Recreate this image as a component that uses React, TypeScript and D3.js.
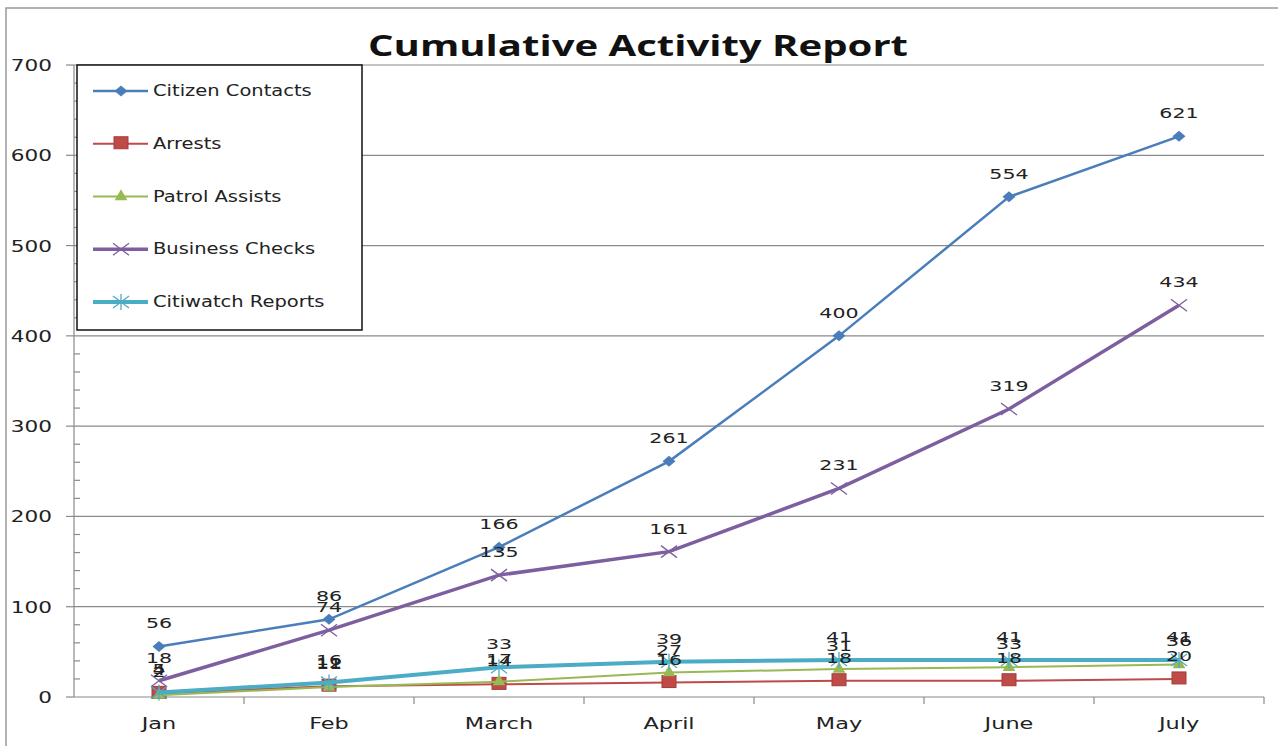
import React, { useRef, useEffect } from 'react';
import * as d3 from 'd3';

const months = ['Jan', 'Feb', 'March', 'April', 'May', 'June', 'July'];
const citizenContacts = [56, 86, 166, 261, 400, 554, 621];
const arrests = [4, 12, 14, 16, 18, 18, 20];
const patrolAssists = [2, 11, 17, 27, 31, 33, 36];
const businessChecks = [18, 74, 135, 161, 231, 319, 434];
const citiwatchReports = [5, 16, 33, 39, 41, 41, 41];
const yTicks = [0, 100, 200, 300, 400, 500, 600, 700];

const series = [
  { name: 'Citizen Contacts', values: citizenContacts, color: '#4a7ebb', width: 2.5, marker: 'diamond' },
  { name: 'Arrests', values: arrests, color: '#be4b48', width: 2, marker: 'square' },
  { name: 'Patrol Assists', values: patrolAssists, color: '#98b954', width: 2, marker: 'triangle' },
  { name: 'Business Checks', values: businessChecks, color: '#7d5fa0', width: 3.5, marker: 'x' },
  { name: 'Citiwatch Reports', values: citiwatchReports, color: '#4bacc6', width: 4, marker: 'star' },
];

const W = 1278;
const H = 746;

const App: React.FC = () => {
  const ref = useRef<SVGSVGElement | null>(null);

  useEffect(() => {
    if (!ref.current) return;
    const svg = d3.select(ref.current);
    svg.selectAll('*').remove();

    const left = 74, right = 1264, top = 65, bottom = 697;
    const x = d3.scaleBand().domain(months).range([left, right]);
    const y = d3.scaleLinear().domain([0, 700]).range([bottom, top]);
    const cx = (m: string) => (x(m) as number) + x.bandwidth() / 2;
    const font = '"DejaVu Sans", Verdana, sans-serif';

    // stretched text helper (reference text is wide)
    const addText = (g: any, tx: number, ty: number, s: string, size: number, sx: number, anchor: string) =>
      g.append('text')
        .attr('transform', `translate(${tx},${ty}) scale(${sx},1)`)
        .attr('text-anchor', anchor)
        .attr('font-family', font)
        .attr('font-size', size)
        .attr('fill', '#222')
        .text(s);

    svg.append('rect').attr('width', W).attr('height', H).attr('fill', '#fff');
    svg.append('rect')
      .attr('x', 6).attr('y', 8).attr('width', W + 20).attr('height', H + 20)
      .attr('fill', 'none').attr('stroke', '#999').attr('stroke-width', 1.5);

    // title
    svg.append('text')
      .attr('x', 638).attr('y', 56)
      .attr('text-anchor', 'middle')
      .attr('font-family', '"Open Sans", sans-serif')
      .attr('font-weight', 'bold')
      .attr('font-size', 29)
      .attr('textLength', 540)
      .attr('lengthAdjust', 'spacingAndGlyphs')
      .attr('fill', '#111')
      .text('Cumulative Activity Report');

    // gridlines
    svg.append('g').selectAll('line').data(yTicks.filter(t => t > 0)).join('line')
      .attr('x1', left).attr('x2', right)
      .attr('y1', d => y(d)).attr('y2', d => y(d))
      .attr('stroke', '#8a8a8a').attr('stroke-width', 1.2);

    // y axis
    const ya = svg.append('g');
    ya.append('line').attr('x1', left).attr('x2', left).attr('y1', top).attr('y2', bottom)
      .attr('stroke', '#8a8a8a').attr('stroke-width', 1.2);
    ya.selectAll('line.maj').data(yTicks).join('line').attr('class', 'maj')
      .attr('x1', left - 8).attr('x2', left).attr('y1', d => y(d)).attr('y2', d => y(d))
      .attr('stroke', '#8a8a8a').attr('stroke-width', 1.2);
    ya.selectAll('line.min').data(d3.range(0, 701, 20).filter(v => v % 100 !== 0)).join('line').attr('class', 'min')
      .attr('x1', left).attr('x2', left + 6).attr('y1', d => y(d)).attr('y2', d => y(d))
      .attr('stroke', '#8a8a8a').attr('stroke-width', 1.2);
    yTicks.forEach(t => addText(ya, 52, y(t) + 6, String(t), 16, 1.35, 'end'));

    // x axis
    const xa = svg.append('g');
    xa.append('line').attr('x1', left).attr('x2', right).attr('y1', bottom).attr('y2', bottom)
      .attr('stroke', '#8a8a8a').attr('stroke-width', 1.2);
    xa.selectAll('line.t').data(months.slice(1).concat(['end'])).join('line').attr('class', 't')
      .attr('x1', d => d === 'end' ? right : (x(d) as number))
      .attr('x2', d => d === 'end' ? right : (x(d) as number))
      .attr('y1', bottom).attr('y2', bottom + 7)
      .attr('stroke', '#8a8a8a').attr('stroke-width', 1.2);
    months.forEach(m => addText(xa, cx(m), 729, m, 16, 1.4, 'middle'));

    const drawMarker = (g: any, kind: string, px: number, py: number, color: string) => {
      if (kind === 'diamond') {
        g.append('path').attr('d', `M${px - 6.5},${py}L${px},${py - 5.5}L${px + 6.5},${py}L${px},${py + 5.5}Z`)
          .attr('fill', color);
      } else if (kind === 'square') {
        g.append('rect').attr('x', px - 7).attr('y', py - 7).attr('width', 14).attr('height', 12)
          .attr('fill', color).attr('stroke', '#a33c3a').attr('stroke-width', 1);
      } else if (kind === 'triangle') {
        g.append('path').attr('d', d3.symbol(d3.symbolTriangle, 70)())
          .attr('transform', `translate(${px},${py})`).attr('fill', color);
      } else if (kind === 'x') {
        g.append('path').attr('d', `M${px - 8},${py - 6}L${px + 8},${py + 6}M${px - 8},${py + 6}L${px + 8},${py - 6}`)
          .attr('stroke', color).attr('stroke-width', 1.3).attr('fill', 'none');
      } else {
        g.append('path').attr('d', `M${px - 8},${py - 6}L${px + 8},${py + 6}M${px - 8},${py + 6}L${px + 8},${py - 6}M${px},${py - 8}L${px},${py + 8}`)
          .attr('stroke', color).attr('stroke-width', 1.3).attr('fill', 'none');
      }
    };

    // lines + markers
    series.forEach(s => {
      const line = d3.line<number>().x((_, i) => cx(months[i])).y(d => y(d));
      svg.append('path').attr('d', line(s.values) as string)
        .attr('fill', 'none').attr('stroke', s.color).attr('stroke-width', s.width);
      const g = svg.append('g');
      s.values.forEach((v, i) => drawMarker(g, s.marker, cx(months[i]), y(v), s.color));
    });

    // data labels
    const lg = svg.append('g');
    series.forEach(s => {
      s.values.forEach((v, i) => addText(lg, cx(months[i]), y(v) - 18, String(v), 14.5, 1.42, 'middle'));
    });

    // legend
    const leg = svg.append('g');
    leg.append('rect').attr('x', 77).attr('y', 65).attr('width', 285).attr('height', 265)
      .attr('fill', '#fff').attr('stroke', '#111').attr('stroke-width', 1.5);
    series.forEach((s, i) => {
      const ly = 91 + i * 52.75;
      leg.append('line').attr('x1', 93).attr('x2', 148).attr('y1', ly).attr('y2', ly)
        .attr('stroke', s.color).attr('stroke-width', s.width);
      drawMarker(leg, s.marker, 121, ly, s.color);
      addText(leg, 153, ly + 5, s.name, 15, 1.3, 'start');
    });
  }, []);

  return (
    <svg ref={ref} width={W} height={H}
      style={{ position: 'absolute', left: 0, top: 0, display: 'block' }} />
  );
};

export default App;
